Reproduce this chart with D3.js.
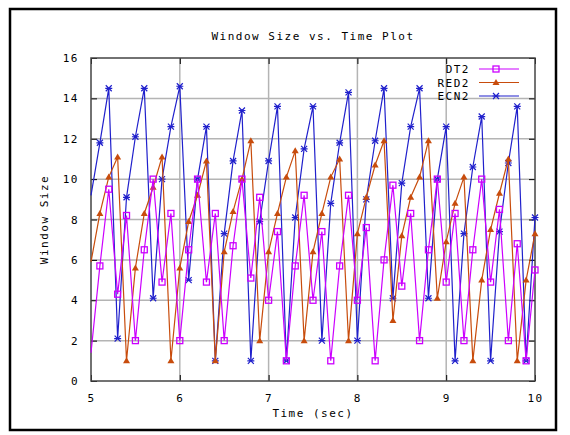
<!DOCTYPE html>
<html>
<head>
<meta charset="utf-8">
<script src="https://cdn.jsdelivr.net/npm/d3@7"></script>
<style>
  body { margin: 0; background: #fff; }
  text { font-family: "DejaVu Sans Mono", monospace; font-size: 11px; letter-spacing: 1.5px; fill: #000; }
</style>
</head>
<body>
<div id="chart"></div>
<script>
const time = [5.0, 5.1, 5.2, 5.3, 5.4, 5.5, 5.6, 5.7, 5.8, 5.9,
              6.0, 6.1, 6.2, 6.3, 6.4, 6.5, 6.6, 6.7, 6.8, 6.9,
              7.0, 7.1, 7.2, 7.3, 7.4, 7.5, 7.6, 7.7, 7.8, 7.9,
              8.0, 8.1, 8.2, 8.3, 8.4, 8.5, 8.6, 8.7, 8.8, 8.9,
              9.0, 9.1, 9.2, 9.3, 9.4, 9.5, 9.6, 9.7, 9.8, 9.9, 10.0];

const dt2 = [1.4, 5.7, 9.5, 4.3, 8.2, 2.0, 6.5, 10.0, 4.9, 8.3,
             2.0, 6.5, 10.0, 4.9, 8.3, 2.0, 6.7, 10.0, 5.1, 9.1,
             4.0, 7.4, 1.0, 5.7, 9.2, 4.0, 7.4, 1.0, 5.7, 9.2,
             4.0, 7.6, 1.0, 6.0, 9.7, 4.7, 8.3, 2.0, 6.5, 10.0,
             4.9, 8.3, 2.0, 6.5, 10.0, 4.9, 8.5, 2.0, 6.8, 1.0, 5.5];

const red2 = [5.9, 8.3, 10.1, 11.1, 1.0, 5.6, 8.3, 9.6, 11.1, 1.0,
              5.6, 7.9, 9.2, 10.9, 1.0, 6.4, 8.4, 10.0, 11.9, 2.0,
              6.4, 8.3, 10.1, 11.4, 2.0, 6.4, 8.3, 10.1, 11.0, 2.0,
              7.3, 9.1, 10.7, 11.9, 3.0, 7.2, 9.1, 10.1, 11.9, 4.1,
              6.9, 8.8, 10.1, 1.0, 5.0, 7.5, 9.3, 11.0, 1.0, 5.0, 7.3];

const ecn2 = [9.2, 11.8, 14.5, 2.1, 9.1, 12.1, 14.5, 4.1, 10.0, 12.6,
              14.6, 5.0, 10.0, 12.6, 1.0, 7.3, 10.9, 13.4, 1.0, 7.9,
              10.9, 13.6, 1.0, 8.1, 11.5, 13.6, 2.0, 8.8, 11.8, 14.3,
              2.0, 9.0, 11.9, 14.5, 4.1, 9.8, 12.6, 14.5, 4.1, 10.0,
              12.6, 1.0, 7.3, 10.6, 13.1, 1.0, 7.4, 10.8, 13.6, 1.0, 8.1];

const xTicks = [5, 6, 7, 8, 9, 10];
const yTicks = [0, 2, 4, 6, 8, 10, 12, 14, 16];

const seriesNames = ["DT2", "RED2", "ECN2"];
const seriesColors = ["#cc00ff", "#c84c0c", "#2020cc"];
const seriesMarks = ["square", "triangle", "star"];

const series = [dt2, red2, ecn2].map((vals, i) => ({
    name: seriesNames[i],
    color: seriesColors[i],
    mark: seriesMarks[i],
    values: vals.map((v, j) => ({t: time[j], v: v}))
}));

const svgWidth = 570, svgHeight = 435;
const margin = {top: 58, right: 35, bottom: 54, left: 91},
      width = svgWidth - margin.left - margin.right,
      height = svgHeight - margin.top - margin.bottom;

const svg = d3.select("#chart").append("svg")
    .attr("width", svgWidth)
    .attr("height", svgHeight);

// outer frame
svg.append("rect")
    .attr("x", 10).attr("y", 9)
    .attr("width", 546).attr("height", 421)
    .attr("fill", "none")
    .attr("stroke", "#000")
    .attr("stroke-width", 2.5);

const g = svg.append("g")
    .attr("transform", "translate(" + margin.left + "," + margin.top + ")");

const x = d3.scaleLinear().domain([5, 10]).range([0, width]);
const y = d3.scaleLinear().domain([0, 16]).range([height, 0]);

// grid
g.append("g")
    .selectAll("line.gx")
    .data(xTicks.slice(1, -1))
    .enter().append("line")
        .attr("x1", d => x(d)).attr("x2", d => x(d))
        .attr("y1", 0).attr("y2", height)
        .attr("stroke", "#b4b4b4").attr("stroke-width", 1.5);
g.append("g")
    .selectAll("line.gy")
    .data(yTicks.slice(1, -1))
    .enter().append("line")
        .attr("x1", 0).attr("x2", width)
        .attr("y1", d => y(d)).attr("y2", d => y(d))
        .attr("stroke", "#b4b4b4").attr("stroke-width", 1.5);

// axes (ticks inward, mirrored)
const tickStyle = sel => {
    sel.select(".domain").remove();
    sel.selectAll(".tick line").attr("stroke", "#000");
    sel.selectAll("text").attr("font-size", null).attr("font-family", null);
};
g.append("g")
    .attr("transform", "translate(0," + height + ")")
    .call(d3.axisBottom(x).tickValues(xTicks).tickSizeInner(-6).tickPadding(13).tickFormat(d3.format("d")))
    .call(tickStyle);
g.append("g")
    .call(d3.axisTop(x).tickValues(xTicks).tickSizeInner(-6).tickFormat(""))
    .call(tickStyle);
g.append("g")
    .call(d3.axisLeft(y).tickValues(yTicks).tickSizeInner(-6).tickPadding(12).tickFormat(d3.format("d")))
    .call(tickStyle);
g.append("g")
    .attr("transform", "translate(" + width + ",0)")
    .call(d3.axisRight(y).tickValues(yTicks).tickSizeInner(-6).tickFormat(""))
    .call(tickStyle);

g.append("rect")
    .attr("width", width).attr("height", height)
    .attr("fill", "none")
    .attr("stroke", "#444").attr("stroke-width", 1.5);

// markers
function drawMark(sel, mark, color) {
    if (mark === "square") {
        sel.append("rect")
            .attr("x", -3).attr("y", -3).attr("width", 6).attr("height", 6)
            .attr("fill", "none")
            .attr("stroke", color).attr("stroke-width", 1.3);
    } else if (mark === "triangle") {
        sel.append("path")
            .attr("d", "M0,-3.5L3.5,2.5L-3.5,2.5Z")
            .attr("fill", color);
    } else {
        sel.append("path")
            .attr("d", "M-3,-3L3,3M-3,3L3,-3M-3.5,0L3.5,0")
            .attr("stroke", color).attr("stroke-width", 1.2);
    }
}

const line = d3.line().x(d => x(d.t)).y(d => y(d.v));

const plot = g.append("g");
series.slice().reverse().forEach(s => {
    plot.append("path")
        .datum(s.values)
        .attr("fill", "none")
        .attr("stroke", s.color)
        .attr("stroke-width", 1.2)
        .attr("d", line);
    // the reference shows no points sitting on the left border
    plot.append("g")
        .selectAll("g")
        .data(s.values.filter(d => d.t > 5))
        .enter().append("g")
            .attr("transform", d => "translate(" + x(d.t) + "," + y(d.v) + ")")
            .each(function() { drawMark(d3.select(this), s.mark, s.color); });
});

// legend
const legend = g.append("g")
    .attr("transform", "translate(" + (width - 55) + ",11)");
series.forEach((s, i) => {
    const row = legend.append("g").attr("transform", "translate(0," + (i * 13.5) + ")");
    row.append("text")
        .attr("x", -10).attr("y", 4)
        .attr("text-anchor", "end")
        .text(s.name);
    row.append("line")
        .attr("x1", -1).attr("x2", 39)
        .attr("stroke", s.color).attr("stroke-width", 1.2);
    drawMark(row.append("g").attr("transform", "translate(16,0)"), s.mark, s.color);
});

// titles
svg.append("text")
    .attr("x", margin.left + width / 2).attr("y", 40)
    .attr("text-anchor", "middle")
    .text("Window Size vs. Time Plot");
svg.append("text")
    .attr("x", margin.left + width / 2).attr("y", 417)
    .attr("text-anchor", "middle")
    .text("Time (sec)");
svg.append("text")
    .attr("transform", "translate(48," + (margin.top + height / 2) + ") rotate(-90)")
    .attr("text-anchor", "middle")
    .text("Window Size");
</script>
</body>
</html>
